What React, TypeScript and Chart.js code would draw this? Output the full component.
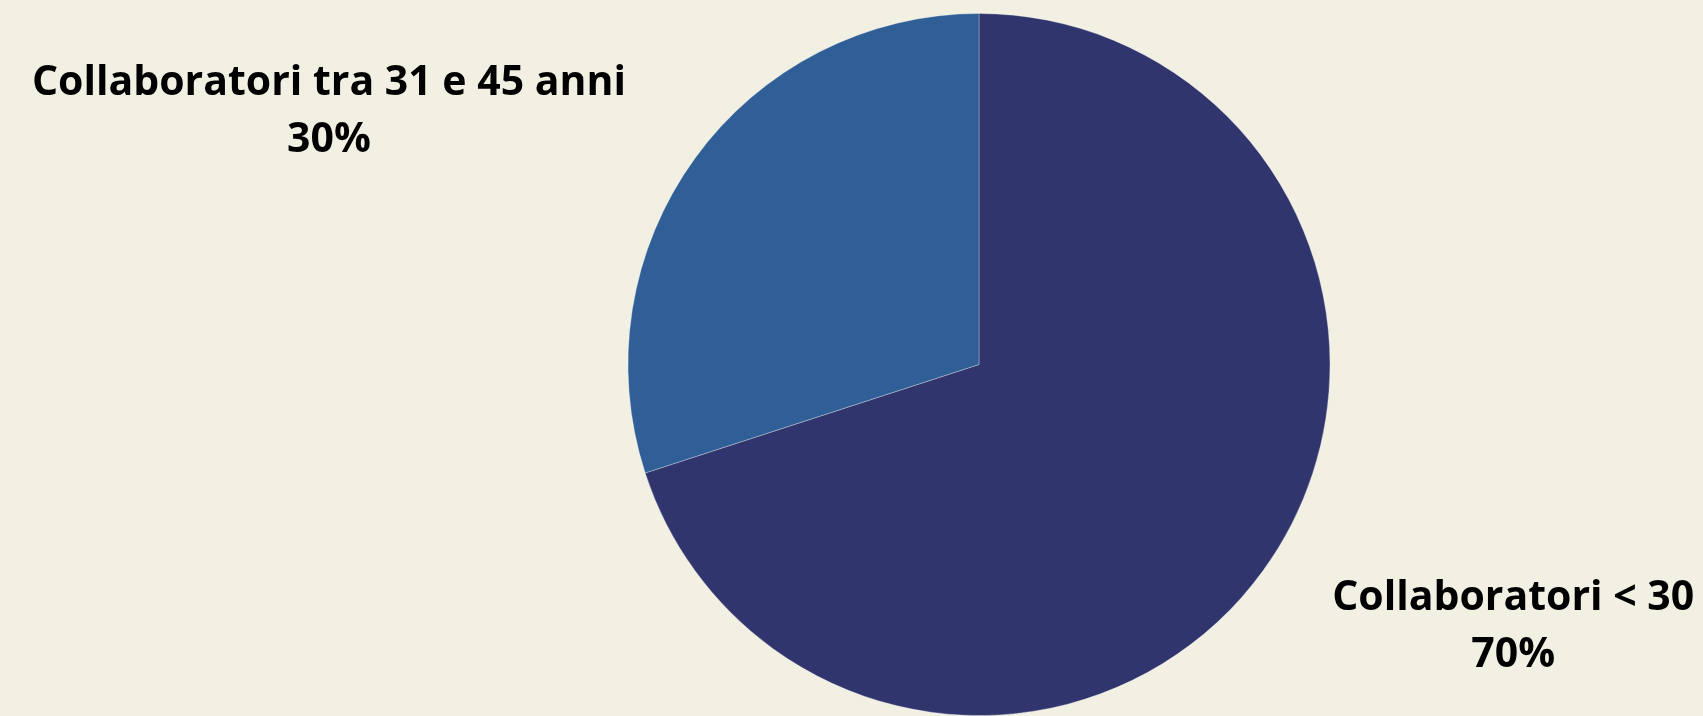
import React, { useEffect, useRef } from "react";
import { Chart, registerables } from "chart.js";

Chart.register(...registerables);

const categories = ["Collaboratori < 30", "Collaboratori tra 31 e 45 anni"];
const values = [70, 30];
const sliceColors = ["#31356D", "#2F5F96"];

// label anchor offsets (in units of pie radius, relative to pie centre)
const labelOffsets = [
  { dx: 1.522, dy: 0.738 },
  { dx: -1.852, dy: -0.728 },
];

const labelPlugin = {
  id: "outerLabels",
  afterDatasetsDraw(chart: any) {
    const meta = chart.getDatasetMeta(0);
    const ctx = chart.ctx;
    const total = values.reduce((a, b) => a + b, 0);
    ctx.save();
    ctx.fillStyle = "#000000";
    ctx.font = "bold 41px 'Open Sans'";
    ctx.textAlign = "center";
    ctx.textBaseline = "alphabetic";
    meta.data.forEach((arc: any, i: number) => {
      const r = arc.outerRadius;
      const cx = arc.x + labelOffsets[i].dx * r;
      const cy = arc.y + labelOffsets[i].dy * r;
      const pct = Math.round((values[i] / total) * 100) + "%";
      ctx.fillText(categories[i], cx, cy - 14);
      ctx.fillText(pct, cx, cy + 43);
    });
    ctx.restore();
  },
};

export default function App() {
  const canvasRef = useRef<HTMLCanvasElement | null>(null);

  useEffect(() => {
    document.body.style.margin = "0";
    document.body.style.background = "#F2EFE3";
    const chart = new Chart(canvasRef.current!, {
      type: "pie",
      data: {
        labels: categories,
        datasets: [
          {
            data: values,
            backgroundColor: sliceColors,
            borderColor: "rgba(255,255,255,0.3)",
            borderWidth: 1,
          },
        ],
      },
      options: {
        animation: false,
        responsive: true,
        maintainAspectRatio: false,
        layout: { padding: { top: 13, bottom: -2, left: 255, right: 0 } },
        plugins: {
          legend: { display: false },
          tooltip: { enabled: false },
          title: { display: false },
        },
      },
      plugins: [labelPlugin],
    });
    return () => chart.destroy();
  }, []);

  return (
    <div
      style={{
        position: "fixed",
        left: 0,
        top: 0,
        width: 1703,
        height: 716,
        background: "#F2EFE3",
      }}
    >
      <canvas ref={canvasRef} />
    </div>
  );
}
